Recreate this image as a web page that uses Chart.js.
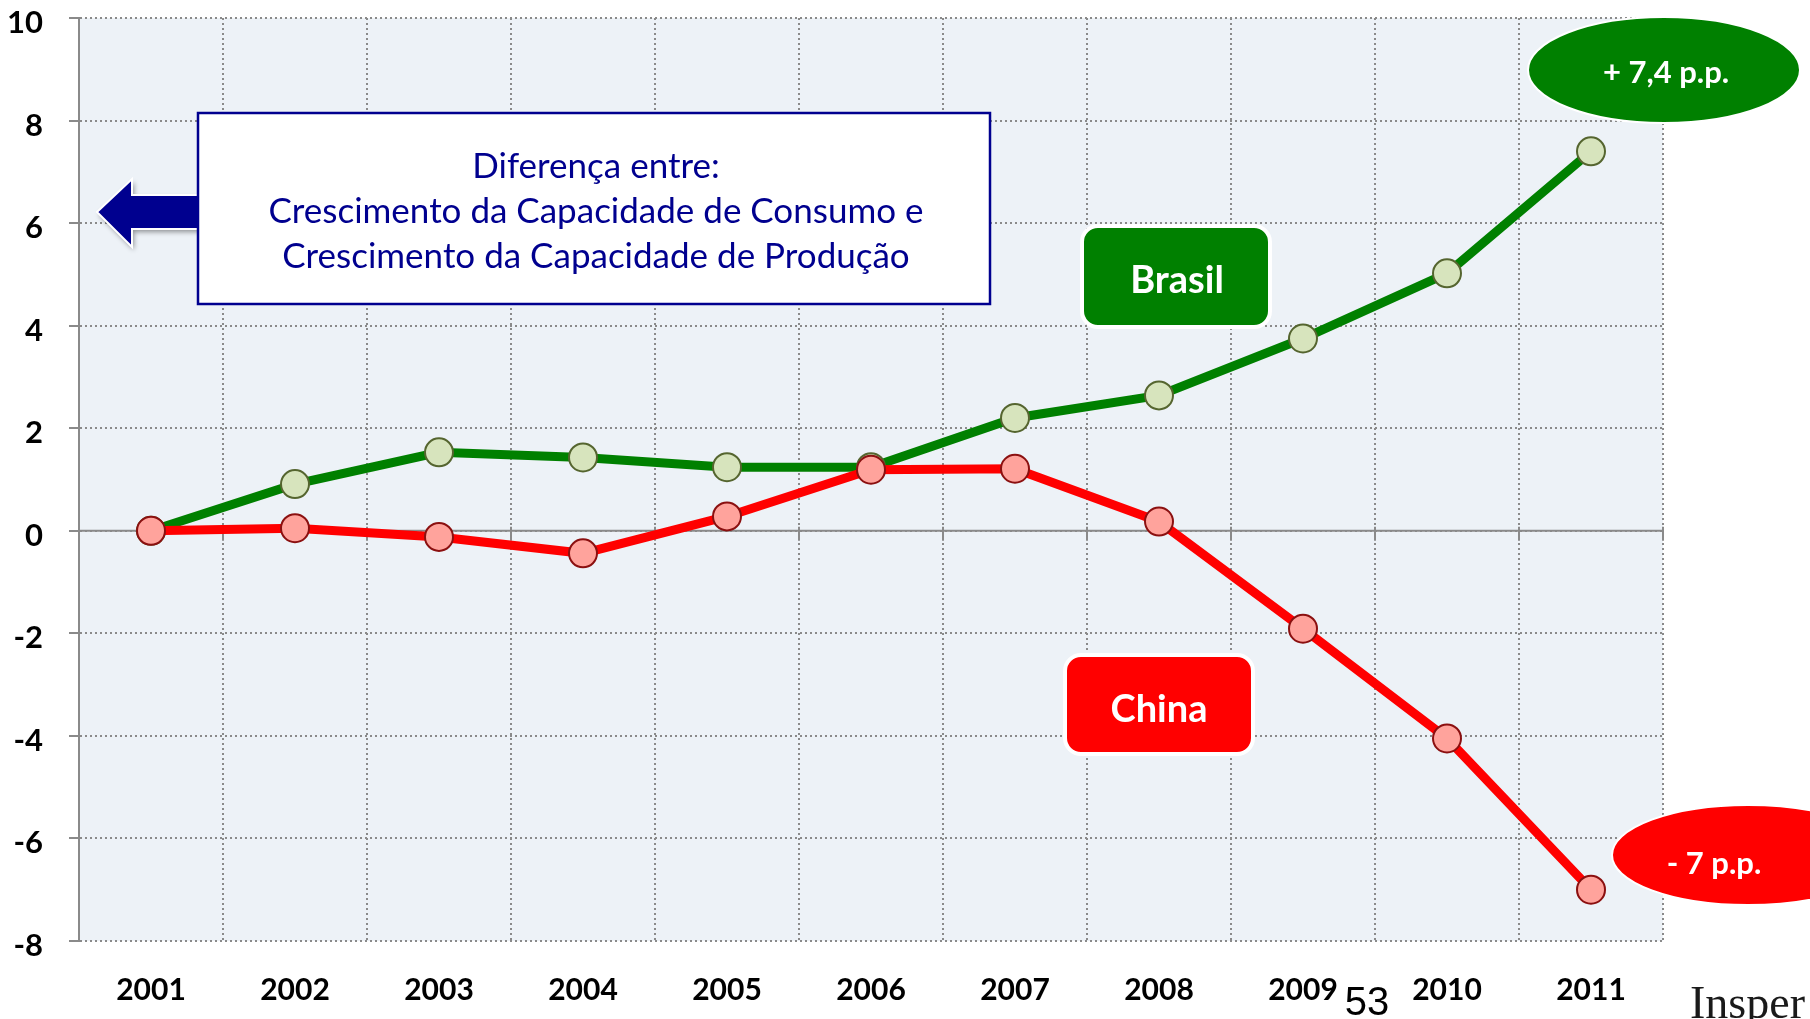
<!DOCTYPE html>
<html>
<head>
<meta charset="utf-8">
<title>Brasil x China</title>
<script src="https://cdn.jsdelivr.net/npm/chart.js@4.4.1/dist/chart.umd.min.js"></script>
<style>
  html, body { margin: 0; padding: 0; background: #fff; }
  #wrap { width: 1810px; height: 1019px; }
</style>
</head>
<body>
<div id="wrap"><canvas id="myChart" width="1810" height="1019"></canvas></div>
<script>
// anos e series (p.p.)
const years = ["2001", "2002", "2003", "2004", "2005", "2006", "2007", "2008", "2009", "2010", "2011"];
const brasil = [0, 0.91, 1.53, 1.43, 1.24, 1.24, 2.2, 2.64, 3.75, 5.02, 7.4];
const china = [0, 0.05, -0.12, -0.44, 0.28, 1.19, 1.21, 0.18, -1.91, -4.05, -7];

const yMin = -8;
const yMax = 10;
const yStep = 2;

const boxLines = [
  "Diferença entre:",
  "Crescimento da Capacidade de Consumo e",
  "Crescimento da Capacidade de Produção",
];
const brasilTag = "Brasil";
const chinaTag = "China";
const brasilDiff = "+ 7,4 p.p.";
const chinaDiff = "- 7 p.p.";

const FONT = "Lato, 'Open Sans', sans-serif";
const GRID = "#8a8a8a";
const NAVY = "#00008f";

// fundo azulado da area do grafico
const plotBg = {
  id: "plotBg",
  beforeDraw(chart) {
    const { ctx, chartArea: a } = chart;
    ctx.save();
    ctx.fillStyle = "#edf2f7";
    ctx.fillRect(a.left, a.top, a.right - a.left, a.bottom - a.top);
    ctx.restore();
  },
};

// linha do zero com marcas entre os anos
const zeroLine = {
  id: "zeroLine",
  beforeDatasetsDraw(chart) {
    const { ctx, chartArea: a, scales } = chart;
    const y0 = scales.y.getPixelForValue(0);
    const step = (a.right - a.left) / years.length;
    ctx.save();
    ctx.strokeStyle = GRID;
    ctx.lineWidth = 2;
    ctx.beginPath();
    ctx.moveTo(a.left, y0);
    ctx.lineTo(a.right, y0);
    for (let i = 1; i <= years.length; i++) {
      const x = Math.round(a.left + i * step);
      ctx.moveTo(x, y0 - 4);
      ctx.lineTo(x, y0 + 10);
    }
    ctx.stroke();
    ctx.restore();
  },
};

function badge(ctx, x, y, w, h, fill, text, tx, ty) {
  ctx.save();
  ctx.beginPath();
  ctx.roundRect(x, y, w, h, 16);
  ctx.fillStyle = fill;
  ctx.fill();
  ctx.lineWidth = 4;
  ctx.strokeStyle = "#ffffff";
  ctx.stroke();
  ctx.fillStyle = "#ffffff";
  ctx.font = "bold 38px " + FONT;
  ctx.textAlign = "center";
  ctx.textBaseline = "alphabetic";
  ctx.fillText(text, tx, ty);
  ctx.restore();
}

function oval(ctx, cx, cy, rx, ry, fill, text, tx, ty) {
  ctx.save();
  ctx.beginPath();
  ctx.ellipse(cx, cy, rx, ry, 0, 0, Math.PI * 2);
  ctx.fillStyle = fill;
  ctx.fill();
  ctx.lineWidth = 2;
  ctx.strokeStyle = "#ffffff";
  ctx.stroke();
  ctx.fillStyle = "#ffffff";
  ctx.font = "bold 31px " + FONT;
  ctx.textAlign = "center";
  ctx.fillText(text, tx, ty);
  ctx.restore();
}

const notes = {
  id: "notes",
  afterDraw(chart) {
    const ctx = chart.ctx;

    // seta azul
    ctx.save();
    ctx.beginPath();
    ctx.moveTo(97, 212);
    ctx.lineTo(132, 179);
    ctx.lineTo(132, 195);
    ctx.lineTo(200, 195);
    ctx.lineTo(200, 229);
    ctx.lineTo(132, 229);
    ctx.lineTo(132, 247);
    ctx.closePath();
    ctx.shadowColor = "rgba(0,0,0,0.4)";
    ctx.shadowBlur = 5;
    ctx.shadowOffsetX = 2;
    ctx.shadowOffsetY = 3;
    ctx.fillStyle = NAVY;
    ctx.fill();
    ctx.shadowColor = "transparent";
    ctx.lineWidth = 2;
    ctx.strokeStyle = "#ffffff";
    ctx.stroke();
    ctx.restore();

    // caixa de texto
    ctx.save();
    ctx.fillStyle = "#ffffff";
    ctx.fillRect(198, 113, 792, 191);
    ctx.lineWidth = 2.5;
    ctx.strokeStyle = NAVY;
    ctx.strokeRect(198, 113, 792, 191);
    ctx.fillStyle = NAVY;
    ctx.font = "35px " + FONT;
    ctx.textAlign = "center";
    boxLines.forEach((line, i) => {
      ctx.fillText(line, 596, 178 + i * 45);
    });
    ctx.restore();

    badge(ctx, 1082, 226, 188, 101, "#008000", brasilTag, 1177, 293);
    badge(ctx, 1065, 655, 188, 99, "#ff0000", chinaTag, 1159, 722);

    oval(ctx, 1664, 70, 136, 53, "#008000", brasilDiff, 1666, 83);
    oval(ctx, 1748, 855, 136, 50, "#ff0000", chinaDiff, 1714, 874);

    // numero da pagina e logo
    ctx.save();
    ctx.fillStyle = "#000000";
    ctx.font = "40px 'Liberation Sans', sans-serif";
    ctx.textAlign = "center";
    ctx.fillText("53", 1367, 1015);
    ctx.font = "46px 'Liberation Serif', serif";
    ctx.textAlign = "left";
    ctx.fillStyle = "#1a1a1a";
    ctx.fillText("Insper", 1690, 1018);
    ctx.restore();
  },
};

const data = {
  labels: years,
  datasets: [
    {
      label: "China",
      data: china,
      borderColor: "#ff0000",
      borderWidth: 9,
      pointRadius: 14,
      pointBorderWidth: 2,
      pointBackgroundColor: "#ffa39c",
      pointBorderColor: "#8b1010",
      tension: 0,
    },
    {
      label: "Brasil",
      data: brasil,
      borderColor: "#008000",
      borderWidth: 9,
      pointRadius: 14,
      pointBorderWidth: 2,
      pointBackgroundColor: "#d7e4bd",
      pointBorderColor: "#55652f",
      tension: 0,
    },
  ],
};

const config = {
  type: "line",
  data: data,
  options: {
    responsive: false,
    animation: false,
    devicePixelRatio: 1,
    layout: {
      padding: { top: 18, right: 147, left: 0, bottom: 0 },
    },
    plugins: {
      legend: { display: false },
      tooltip: { enabled: false },
    },
    scales: {
      x: {
        offset: true,
        grid: {
          offset: true,
          color: GRID,
          lineWidth: 2,
          drawTicks: false,
        },
        border: { display: false, dash: [2, 3] },
        ticks: {
          color: "#000000",
          font: { family: FONT, size: 30, weight: "bold" },
          padding: 31,
          maxRotation: 0,
        },
        afterFit: (scale) => {
          scale.height = 78;
        },
      },
      y: {
        min: yMin,
        max: yMax,
        ticks: {
          stepSize: yStep,
          color: "#000000",
          font: { family: FONT, size: 31, weight: "bold" },
          padding: 26,
          labelOffset: 5,
        },
        grid: {
          color: GRID,
          lineWidth: 2,
          tickLength: 10,
          tickColor: GRID,
          tickWidth: 2,
        },
        border: { display: true, color: GRID, width: 2, dash: [2, 3] },
        afterFit: (scale) => {
          scale.width = 79;
          // tick padding should not push the plot down
          scale.paddingTop = 0;
          scale.paddingBottom = 0;
        },
      },
    },
  },
  plugins: [plotBg, zeroLine, notes],
};

var ctx = document.getElementById("myChart").getContext("2d");
var myChart = new Chart(ctx, config);
</script>
</body>
</html>
